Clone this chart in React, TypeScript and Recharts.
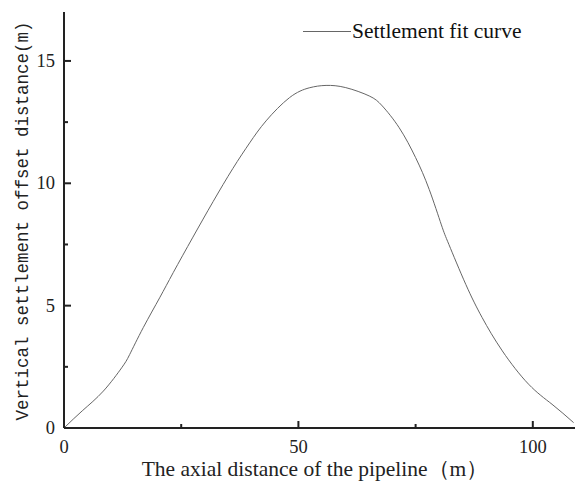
import { Legend, Line, LineChart, XAxis, YAxis } from 'recharts';

const distance = [
  0, 4, 8.4, 12.3, 14, 16.9, 20.4, 23.3, 27.5, 31.8, 36, 39.6, 43.1, 48.1, 52.3, 55.9, 60.1, 65.1,
  67.9, 71.5, 75, 77.9, 80.5, 82.1, 85.7, 89.2, 93.5, 99.1, 104.1, 108.7,
];
const settlement = [
  0, 0.72, 1.51, 2.46, 3.0, 4.1, 5.32, 6.35, 7.8, 9.25, 10.6, 11.65, 12.55, 13.5, 13.9, 14.0,
  13.91, 13.57, 13.16, 12.27, 11.05, 9.75, 8.3, 7.5, 5.87, 4.51, 3.15, 1.79, 0.97, 0.22,
];
const xTicks = [0, 25, 50, 75, 100];
const yTicks = [0, 2.5, 5, 7.5, 10, 12.5, 15];
const xMajor = [0, 50, 100];
const yMajor = [0, 5, 10, 15];

const data = distance.map((x, i) => ({ x, y: settlement[i] }));

const serif = '"Liberation Serif", "Times New Roman", serif';
const axisColor = '#222';

function XTick(props: any) {
  const { x, y, payload } = props;
  const major = xMajor.includes(payload.value);
  return (
    <g>
      <line x1={x} y1={y} x2={x} y2={y - (major ? 7 : 4)} stroke={axisColor} strokeWidth={2} />
      {major && (
        <text x={x} y={y + 25} textAnchor="middle" fontFamily={serif} fontSize={18.5} fill="#222">
          {payload.value}
        </text>
      )}
    </g>
  );
}

function YTick(props: any) {
  const { x, y, payload } = props;
  const major = yMajor.includes(payload.value);
  return (
    <g>
      <line x1={x} y1={y} x2={x + (major ? 7 : 4)} y2={y} stroke={axisColor} strokeWidth={2} />
      {major && (
        <text x={x - 9} y={y + 6} textAnchor="end" fontFamily={serif} fontSize={18.5} fill="#222">
          {payload.value}
        </text>
      )}
    </g>
  );
}

function YTitle() {
  return (
    <text
      x={28}
      y={221}
      transform="rotate(-90 28 221)"
      textAnchor="middle"
      fontFamily='"Liberation Mono", monospace'
      fontSize={17.5}
      fill="#222"
    >
      Vertical settlement offset distance(m)
    </text>
  );
}

function XTitle() {
  return (
    <text x={315} y={476} textAnchor="middle" fontFamily={serif} fontSize={21.5} fill="#222">
      The axial distance of the pipeline（m）
    </text>
  );
}

function LegendBox() {
  return (
    <div style={{ display: 'flex', alignItems: 'center', fontFamily: serif, fontSize: 21.5, color: '#111' }}>
      <div style={{ width: 48, height: 1, background: '#666', marginRight: 1 }} />
      <span>Settlement fit curve</span>
    </div>
  );
}

export default function App() {
  return (
    <div style={{ position: 'absolute', left: 0, top: 0, background: '#fff' }}>
      <LineChart width={575} height={489} data={data} margin={{ top: 12, right: 0, bottom: 0, left: 0 }}>
        <XAxis
          dataKey="x"
          type="number"
          domain={[0, 109]}
          ticks={xTicks}
          height={61}
          tickSize={0}
          tickMargin={0}
          tickLine={false}
          tick={XTick}
          stroke={axisColor}
          strokeWidth={2}
          allowDataOverflow
          label={XTitle}
        />
        <YAxis
          type="number"
          domain={[0, 17]}
          ticks={yTicks}
          width={64}
          tickSize={0}
          tickMargin={0}
          tickLine={false}
          tick={YTick}
          stroke={axisColor}
          strokeWidth={2}
          label={YTitle}
        />
        <Legend
          layout="vertical"
          verticalAlign="middle"
          align="center"
          content={LegendBox}
          wrapperStyle={{ position: 'absolute', left: 303, top: 19, width: 'auto' }}
        />
        <Line
          type="natural"
          dataKey="y"
          stroke="#666"
          strokeWidth={1}
          dot={false}
          isAnimationActive={false}
        />
      </LineChart>
    </div>
  );
}
